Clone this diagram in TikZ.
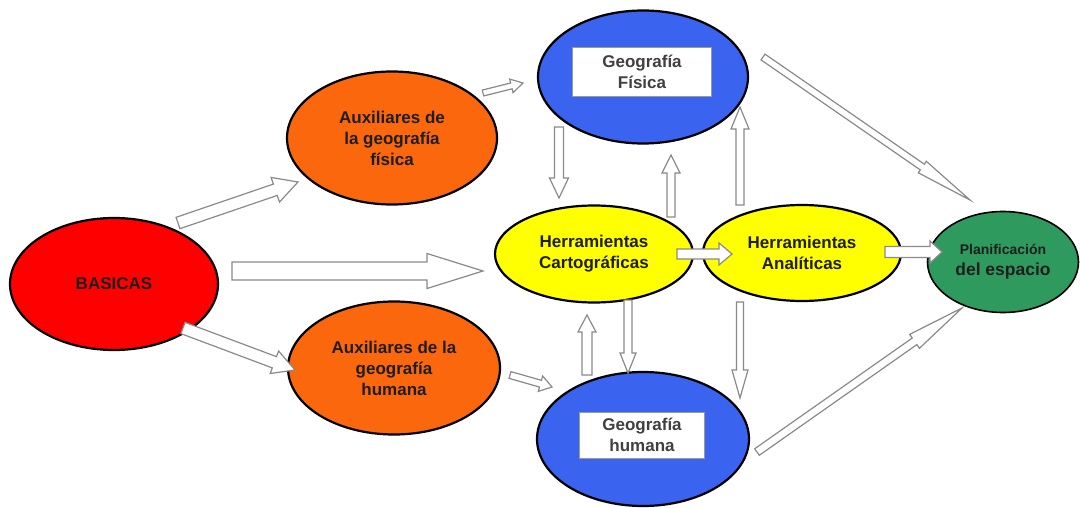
\documentclass[tikz,border=0pt]{standalone}
\usepackage{fontspec}
\setmainfont{Liberation Sans}
\usetikzlibrary{calc,shapes.geometric}
\definecolor{cred}{HTML}{FF0000}
\definecolor{corange}{HTML}{FA670C}
\definecolor{cblue}{HTML}{3A63F0}
\definecolor{cyellow}{HTML}{FFFF00}
\definecolor{cgreen}{HTML}{2F9A5E}
\definecolor{ctext}{HTML}{1E1E1E}
\definecolor{carrow}{HTML}{8A8A8A}
\newcommand\blockarrow[5]{%
  \path (#1) coordinate (ba-s) (#2) coordinate (ba-e);
  \path ($(ba-e)!#5!(ba-s)$) coordinate (ba-h);
  \draw[blockarr] ($(ba-s)!#3!90:(ba-e)$) -- ($(ba-h)!#3!90:(ba-e)$)
    -- ($(ba-h)!#4!90:(ba-e)$) -- (ba-e) -- ($(ba-h)!#4!-90:(ba-e)$)
    -- ($(ba-h)!#3!-90:(ba-e)$) -- ($(ba-s)!#3!-90:(ba-e)$) -- cycle;
}
\begin{document}
\begin{tikzpicture}[x=1pt,y=-1pt,
  bubble/.style={ellipse, draw=black, line width=2.2pt, inner sep=0pt, align=center,
    text=ctext, font=\fontsize{17}{21}\selectfont\bfseries},
  tagbox/.style={rectangle, draw=gray!80, line width=0.8pt, fill=white, inner sep=0pt,
    align=center, text=ctext!85, font=\fontsize{17}{21}\selectfont\bfseries},
  blockarr/.style={draw=carrow, fill=white, line width=1.2pt, line join=miter}]
\useasboundingbox (0,0) rectangle (1080,508);
\fill[white] (0,0) rectangle (1080,508);

\node[bubble, fill=cred, minimum width=208pt, minimum height=132pt] (bas) at (114,284) {BASICAS};
\node[bubble, fill=corange, minimum width=210pt, minimum height=133pt] (auxf) at (392,138) {Auxiliares de\\la geografía\\física};
\node[bubble, fill=corange, minimum width=212pt, minimum height=133pt] (auxh) at (394,368) {Auxiliares de la\\geografía\\humana};
\node[bubble, fill=cblue, minimum width=210pt, minimum height=133pt] (geof) at (643,77) {};
\node[bubble, fill=cblue, minimum width=212pt, minimum height=134pt] (geoh) at (643,439) {};
\node[bubble, fill=cyellow, minimum width=198pt, minimum height=97pt] (hc) at (594,254) {Herramientas\\Cartográficas};
\node[bubble, fill=cyellow, minimum width=198pt, minimum height=96pt] (ha) at (802,253) {Herramientas\\Analíticas};
\node[bubble, fill=cgreen, minimum width=151pt, minimum height=101pt, line width=1.6pt,
  font=\fontsize{17.5}{21}\selectfont\bfseries] (plan) at (1003,262)
  {{\fontsize{14}{17}\selectfont Planificación}\\del espacio};

\node[tagbox, minimum width=139pt, minimum height=49pt] (geofbox) at (642,72) {Geografía\\Física};
\node[tagbox, minimum width=125pt, minimum height=46pt] (geohbox) at (642,435) {Geografía\\humana};

% arrows from BASICAS
\blockarrow{$(bas)+(64,-61)$}{$(auxf)+(-94,44)$}{6pt}{13pt}{24pt}
\blockarrow{$(bas)+(118,-13)$}{$(hc)+(-111,17)$}{9pt}{17.5pt}{56pt}
\blockarrow{$(bas)+(69,44)$}{$(auxh)+(-99,2)$}{6pt}{12pt}{22pt}
% auxiliaries to geographies
\blockarrow{$(auxf)+(91,-45)$}{$(geof)+(-120,6)$}{3pt}{7pt}{12pt}
\blockarrow{$(auxh)+(116,7)$}{$(geoh)+(-91,-52)$}{3.5pt}{8pt}{12pt}
% verticals upper
\blockarrow{$(geof)+(-84,50)$}{$(hc)+(-35,-56)$}{4.5pt}{9.5pt}{20pt}
\blockarrow{$(hc)+(77,-37)$}{$(geof)+(28,78)$}{4pt}{9pt}{18pt}
\blockarrow{$(ha)+(-62,-48)$}{$(geof)+(97,30)$}{4pt}{9pt}{22pt}
% verticals lower
\blockarrow{$(hc)+(34,46)$}{$(geoh)+(-15,-66)$}{4pt}{8pt}{20pt}
\blockarrow{$(geoh)+(-56,-64)$}{$(hc)+(-7,61)$}{5pt}{9pt}{17pt}
\blockarrow{$(ha)+(-62,49)$}{$(geoh)+(97,-41)$}{3.5pt}{8pt}{28pt}
% horizontals
\blockarrow{$(hc)+(83,0)$}{$(ha)+(-70,1)$}{5pt}{11pt}{13pt}
\blockarrow{$(ha)+(83,-1)$}{$(plan)+(-61,-10)$}{5.5pt}{11pt}{12pt}
% diagonals to planning
\blockarrow{$(geof)+(120,-20)$}{$(plan)+(-33,-62)$}{3.5pt}{7pt}{58pt}
\blockarrow{$(geoh)+(114,13)$}{$(plan)+(-41,46)$}{4pt}{8.5pt}{58pt}
\end{tikzpicture}
\end{document}
